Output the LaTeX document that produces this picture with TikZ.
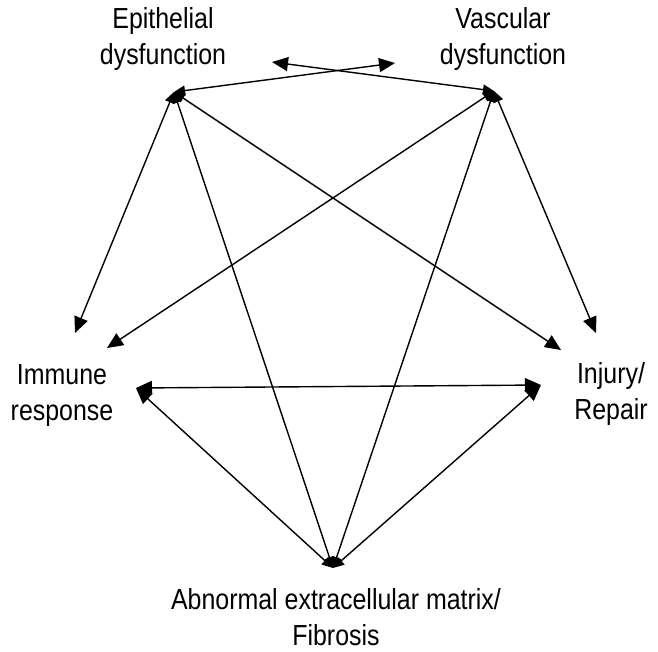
\documentclass[tikz,border=0pt]{standalone}
\usepackage{fontspec}
\setmainfont{Liberation Sans}
\newfontfamily\lblfont[FakeStretch=0.86]{Liberation Sans}
\usetikzlibrary{arrows.meta}
\begin{document}
\begin{tikzpicture}[x=1pt,y=-1pt,
  lbl/.style={font=\lblfont\fontsize{29}{36}\selectfont, align=center, inner sep=0pt},
  link/.style={line width=1.4pt, {Triangle[length=11pt,width=10pt]}-{Triangle[length=16pt,width=14pt]}},
  both/.style={line width=1.4pt, {Triangle[length=16pt,width=14pt]}-{Triangle[length=16pt,width=14pt]}},
  hubin/.style={line width=1.4pt, {Triangle[length=16pt,width=14pt]}-{Triangle[length=11pt,width=10pt]}},
  hubhub/.style={line width=1.4pt, {Triangle[length=11pt,width=10pt]}-{Triangle[length=11pt,width=10pt]}}]
\useasboundingbox (0,0) rectangle (658,651);
% labels
\node[lbl] (epi) at (163,38.5) {Epithelial\\dysfunction};
\node[lbl] (vas) at (503,38.5) {Vascular\\dysfunction};
\node[lbl] (imm) at (62,396) {Immune\\response};
\node[lbl] (inj) at (611,393.5) {Injury/\\Repair};
\node[lbl] (abn) at (336,617.5) {Abnormal extracellular matrix/\\Fibrosis};
% hubs and arrow tips
\coordinate (E) at (174,92);
\coordinate (V) at (494,91);
\coordinate (B) at (333,568);
\coordinate (tR) at (395,63);
\coordinate (tL) at (272,62);
\coordinate (eI) at (75,333);
\coordinate (vI) at (107,348);
\coordinate (eJ) at (561,350);
\coordinate (vJ) at (596,333);
\coordinate (iL) at (136,388);
\coordinate (iR) at (541,385);
% connectors
\draw[link] (E) -- (tR);
\draw[link] (V) -- (tL);
\draw[link] (E) -- (eI);
\draw[link] (V) -- (vI);
\draw[link] (E) -- (eJ);
\draw[link] (V) -- (vJ);
\draw[both] (iL) -- (iR);
\draw[hubin] (iL) -- (B);
\draw[hubin] (iR) -- (B);
\draw[hubhub] (E) -- (B);
\draw[hubhub] (V) -- (B);
\end{tikzpicture}
\end{document}
